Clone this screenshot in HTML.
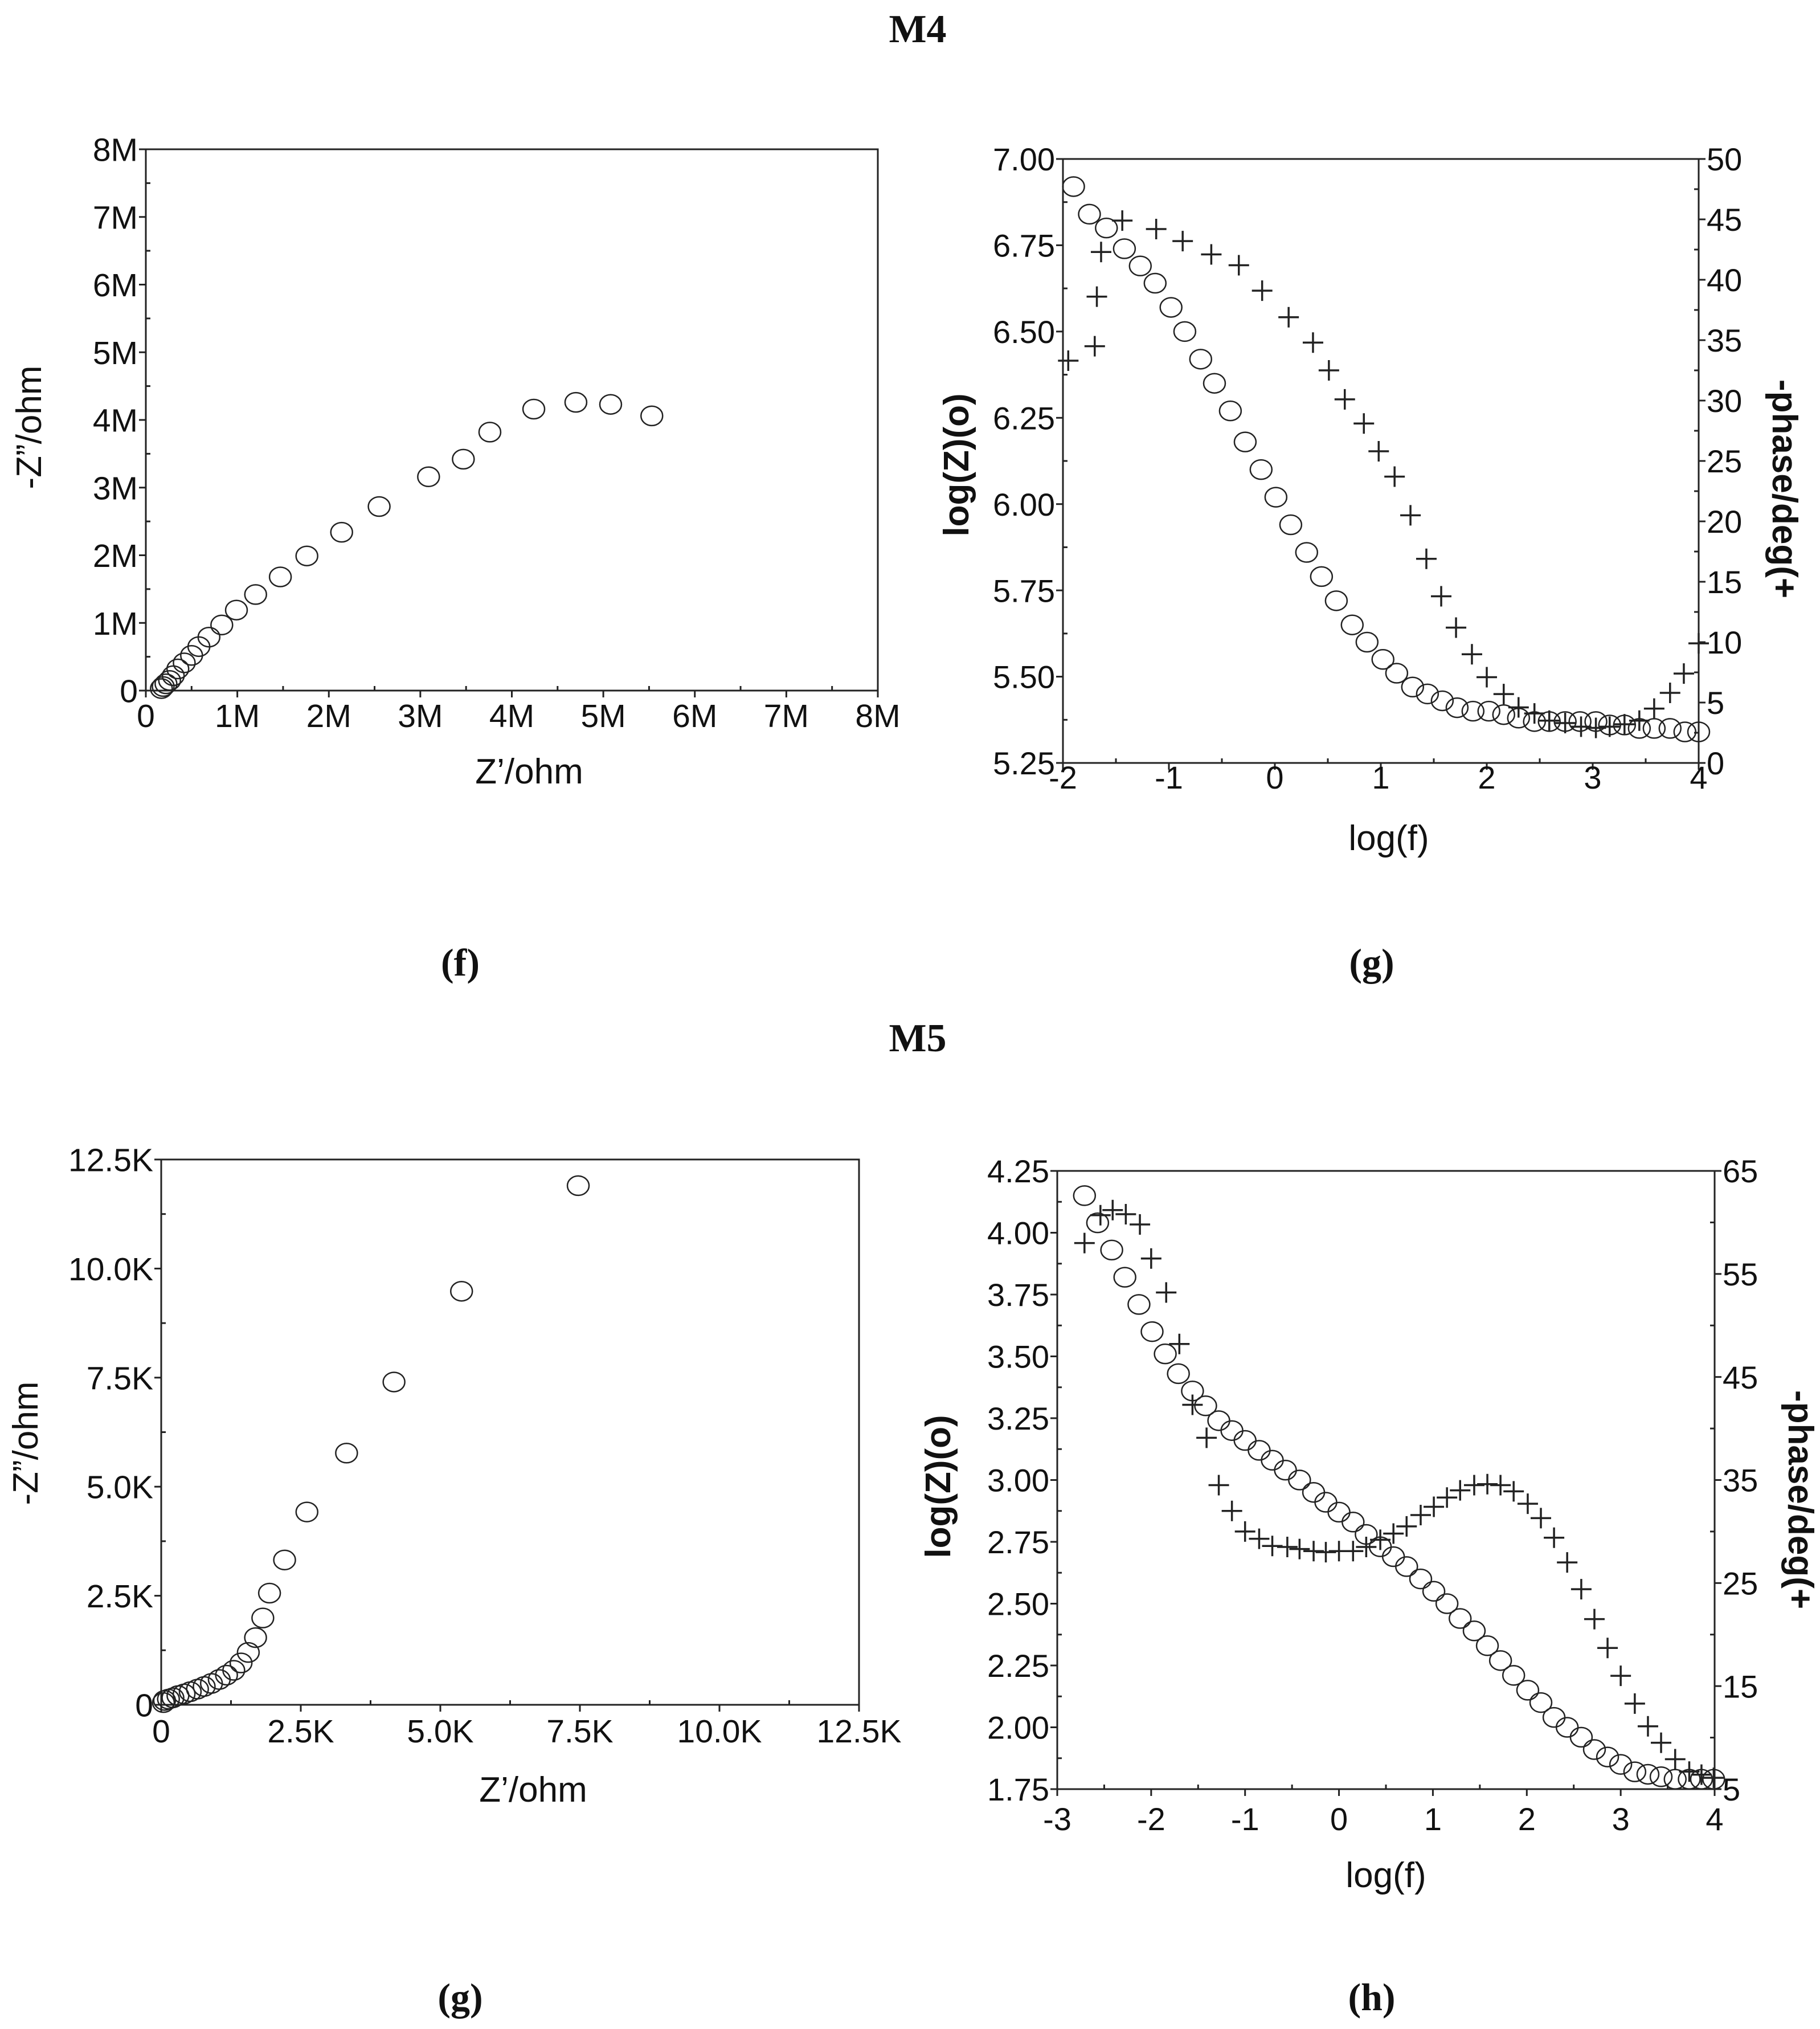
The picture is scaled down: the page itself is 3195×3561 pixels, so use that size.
<!DOCTYPE html>
<html><head><meta charset="utf-8">
<style>
html,body{margin:0;padding:0;background:#fff;}
svg{display:block;}
text{font-family:"Liberation Sans",Arial,sans-serif;fill:#111;}
.ser{font-family:"Liberation Serif","Times New Roman",serif;font-weight:bold;}
</style></head>
<body>
<svg id="root" width="3195" height="3561" viewBox="0 0 3195 3561" xmlns="http://www.w3.org/2000/svg">
<rect width="3195" height="3561" fill="#fff"/>
<text class="ser" x="1611" y="74" font-size="70" text-anchor="middle">M4</text>
<text class="ser" x="1611" y="1845" font-size="70" text-anchor="middle">M5</text>
<text class="ser" x="808" y="1712" font-size="68" text-anchor="middle">(f)</text>
<text class="ser" x="2408" y="1712" font-size="68" text-anchor="middle">(g)</text>
<text class="ser" x="808" y="3528" font-size="68" text-anchor="middle">(g)</text>
<text class="ser" x="2408" y="3528" font-size="68" text-anchor="middle">(h)</text>
</svg>
<script>
// Panel f (M4 Nyquist), values in M ohm
const fX=[5.53,5.08,4.70,4.24,3.76,3.47,3.09,2.55,2.14,1.76,1.47,1.20,0.99,0.83,0.69,0.58,0.50,0.42,0.35,0.30,0.26,0.22,0.19,0.17];
const fY=[4.06,4.23,4.26,4.16,3.82,3.42,3.16,2.72,2.34,1.99,1.68,1.42,1.19,0.97,0.79,0.65,0.52,0.41,0.32,0.22,0.15,0.10,0.06,0.03];
const fXTicks=["0","1M","2M","3M","4M","5M","6M","7M","8M"];
const fYTicks=["0","1M","2M","3M","4M","5M","6M","7M","8M"];
// Panel g (M4 Bode)
const gF=[-1.90,-1.75,-1.59,-1.42,-1.27,-1.13,-0.98,-0.85,-0.70,-0.57,-0.42,-0.28,-0.13,0.01,0.15,0.30,0.44,0.58,0.73,0.87,1.02,1.15,1.30,1.44,1.58,1.72,1.87,2.02,2.16,2.30,2.45,2.59,2.74,2.88,3.03,3.16,3.30,3.44,3.58,3.73,3.87,4.0];
const gZ=[6.92,6.84,6.80,6.74,6.69,6.64,6.57,6.50,6.42,6.35,6.27,6.18,6.10,6.02,5.94,5.86,5.79,5.72,5.65,5.60,5.55,5.51,5.47,5.45,5.43,5.41,5.40,5.40,5.39,5.38,5.37,5.37,5.37,5.37,5.37,5.36,5.36,5.35,5.35,5.35,5.34,5.34];
const gPF=[-1.95,-1.70,-1.68,-1.64,-1.44,-1.12,-0.87,-0.60,-0.34,-0.12,0.13,0.36,0.51,0.66,0.84,0.98,1.13,1.28,1.43,1.57,1.71,1.86,2.00,2.16,2.30,2.45,2.59,2.74,2.89,3.03,3.16,3.30,3.44,3.58,3.73,3.86,4.0];
const gP=[33.3,34.5,38.6,42.3,44.9,44.2,43.2,42.1,41.2,39.1,36.9,34.8,32.5,30.1,28.1,25.8,23.7,20.5,16.9,13.8,11.2,9.0,7.1,5.7,4.6,4.1,3.5,3.3,3.0,2.9,3.0,3.2,3.5,4.5,5.8,7.4,9.9];
const gXTicks=["-2","-1","0","1","2","3","4"];
const gYTicks=["5.25","5.50","5.75","6.00","6.25","6.50","6.75","7.00"];
const gY2Ticks=["0","5","10","15","20","25","30","35","40","45","50"];
// Panel g2 (M5 Nyquist), values in K ohm
const hX=[7.47,5.38,4.17,3.32,2.61,2.21,1.94,1.82,1.69,1.56,1.43,1.30,1.17,1.04,0.90,0.77,0.65,0.52,0.41,0.30,0.21,0.13,0.06,0.04];
const hY=[11.90,9.48,7.40,5.77,4.42,3.32,2.56,1.99,1.54,1.20,0.96,0.79,0.68,0.58,0.49,0.42,0.36,0.30,0.25,0.21,0.16,0.13,0.10,0.05];
const hXTicks=["0","2.5K","5.0K","7.5K","10.0K","12.5K"];
const hYTicks=["0","2.5K","5.0K","7.5K","10.0K","12.5K"];
// Panel h (M5 Bode)
const kF=[-2.71,-2.57,-2.42,-2.28,-2.13,-1.99,-1.85,-1.71,-1.56,-1.42,-1.28,-1.14,-1.00,-0.85,-0.71,-0.57,-0.42,-0.27,-0.14,0.00,0.15,0.29,0.44,0.58,0.72,0.87,1.01,1.15,1.29,1.44,1.58,1.72,1.86,2.01,2.15,2.29,2.43,2.58,2.72,2.86,3.00,3.15,3.29,3.43,3.58,3.73,3.86,3.99];
const kZ=[4.15,4.04,3.93,3.82,3.71,3.60,3.51,3.43,3.36,3.30,3.24,3.20,3.16,3.12,3.08,3.04,3.00,2.95,2.91,2.87,2.83,2.78,2.73,2.69,2.65,2.60,2.55,2.50,2.44,2.39,2.33,2.27,2.21,2.15,2.10,2.04,2.00,1.96,1.91,1.88,1.85,1.82,1.81,1.80,1.79,1.79,1.79,1.79];
const kPF=[-2.71,-2.54,-2.41,-2.27,-2.12,-2.00,-1.84,-1.70,-1.56,-1.41,-1.28,-1.14,-1.00,-0.85,-0.71,-0.55,-0.42,-0.27,-0.14,0.00,0.15,0.29,0.44,0.58,0.72,0.87,1.01,1.15,1.29,1.44,1.58,1.72,1.86,2.01,2.15,2.29,2.43,2.58,2.72,2.86,3.00,3.15,3.29,3.43,3.58,3.73,3.86,3.99];
const kP=[58.0,60.7,61.2,60.8,59.8,56.5,53.2,48.2,42.3,39.1,34.5,32.0,30.0,29.3,28.6,28.5,28.3,28.1,28.0,28.1,28.1,28.5,29.2,29.8,30.5,31.6,32.4,33.3,34.0,34.5,34.6,34.5,33.9,32.7,31.3,29.4,27.0,24.4,21.5,18.7,16.0,13.3,11.1,9.5,7.9,6.7,6.4,6.1];
const kXTicks=["-3","-2","-1","0","1","2","3","4"];
const kYTicks=["1.75","2.00","2.25","2.50","2.75","3.00","3.25","3.50","3.75","4.00","4.25"];
const kY2Ticks=["5","15","25","35","45","55","65"];

const NS="http://www.w3.org/2000/svg";
const root=document.getElementById('root');
function mk(tag,attrs,parent){const e=document.createElementNS(NS,tag);for(const k in attrs)e.setAttribute(k,attrs[k]);(parent||root).appendChild(e);return e;}
function lin(d0,d1,r0,r1){return v=>r0+(v-d0)/(d1-d0)*(r1-r0);}

function panel(o){
  const g=mk('g',{});
  
  
  const box=mk('rect',{x:o.L,y:o.T,width:o.R-o.L,height:o.B-o.T,fill:'none',stroke:'#222','stroke-width':3},g);
  
  
  const sx=lin(o.xd[0],o.xd[1],o.L,o.R), sy=lin(o.yd[0],o.yd[1],o.B,o.T);
  const nx=o.xt.length;
  for(let i=0;i<nx;i++){
    const v=o.xd[0]+(o.xd[1]-o.xd[0])*i/(nx-1), x=sx(v);
    mk('line',{x1:x,y1:o.B,x2:x,y2:o.B+12,stroke:'#222','stroke-width':3},g);
    if(i<nx-1){const xm=sx(v+(o.xd[1]-o.xd[0])/(nx-1)/2);mk('line',{x1:xm,y1:o.B,x2:xm,y2:o.B-8,stroke:'#222','stroke-width':3},g);}
    const t=mk('text',{x:x,y:o.xly,'font-size':o.fs,'text-anchor':'middle'},g);t.textContent=o.xt[i];
    
    
  }
  const ny=o.yt.length;
  for(let i=0;i<ny;i++){
    const v=o.yd[0]+(o.yd[1]-o.yd[0])*i/(ny-1), y=sy(v);
    mk('line',{x1:o.L-12,y1:y,x2:o.L,y2:y,stroke:'#222','stroke-width':3},g);
    if(i<ny-1){const ym=sy(v+(o.yd[1]-o.yd[0])/(ny-1)/2);mk('line',{x1:o.L,y1:ym,x2:o.L+8,y2:ym,stroke:'#222','stroke-width':3},g);}
    const t=mk('text',{x:o.L-14,y:y+o.fs*0.36,'font-size':o.fs,'text-anchor':'end'},g);t.textContent=o.yt[i];
    
    
  }
  let sy2=null;
  if(o.y2t){
    sy2=lin(o.y2d[0],o.y2d[1],o.B,o.T);
    const n2=o.y2t.length;
    for(let i=0;i<n2;i++){
      const v=o.y2d[0]+(o.y2d[1]-o.y2d[0])*i/(n2-1), y=sy2(v);
      mk('line',{x1:o.R,y1:y,x2:o.R+12,y2:y,stroke:'#222','stroke-width':3},g);
      if(i<n2-1){const ym=sy2(v+(o.y2d[1]-o.y2d[0])/(n2-1)/2);mk('line',{x1:o.R-8,y1:ym,x2:o.R,y2:ym,stroke:'#222','stroke-width':3},g);}
      const t=mk('text',{x:o.R+14,y:y+o.fs*0.36,'font-size':o.fs},g);t.textContent=o.y2t[i];
      
      
    }
    const t2=mk('text',{x:o.y2lx,y:o.y2ly,'font-size':62,'text-anchor':'middle','font-weight':'bold',transform:`rotate(90 ${o.y2lx} ${o.y2ly})`},g);
    t2.textContent='-phase/deg(+';
    
    
  }
  const tx=mk('text',{x:o.xlx,y:o.xlty,'font-size':62,'text-anchor':'middle'},g);tx.textContent=o.xtitle;
  
  
  const ty=mk('text',{x:o.ylx,y:o.yly,'font-size':62,'text-anchor':'middle','font-weight':o.ybold?'bold':'normal',transform:`rotate(-90 ${o.ylx} ${o.yly})`},g);ty.textContent=o.ytitle;
  
  
  for(let i=0;i<o.cx.length;i++){
    const c=mk('ellipse',{cx:sx(o.cx[i]),cy:sy(o.cy[i]),rx:19,ry:17,fill:'none',stroke:'#222','stroke-width':2.5},g);
    
    
  }
  if(o.px){
    for(let i=0;i<o.px.length;i++){
      const x=sx(o.px[i]),y=sy2(o.py[i]);
      const p=mk('path',{d:`M${x-18} ${y}H${x+18}M${x} ${y-18}V${y+18}`,stroke:'#222','stroke-width':3.5,fill:'none'},g);
      
      
    }
  }
}
panel({name:'m4-nyquist-chart',L:256,R:1541,T:262,B:1212,xd:[0,8],yd:[0,8],xt:fXTicks,yt:fYTicks,fs:57,xly:1276,xlx:929,xlty:1375,xtitle:'Z’/ohm',ylx:72,yly:750,ytitle:'-Z”/ohm',cx:fX,cy:fY});
panel({name:'m4-bode-chart',L:1866,R:2982,T:279,B:1339,xd:[-2,4],yd:[5.25,7.0],y2d:[0,50],xt:gXTicks,yt:gYTicks,y2t:gY2Ticks,fs:56,xly:1384,xlx:2438,xlty:1492,xtitle:'log(f)',ylx:1700,yly:816,ytitle:'log(Z)(o)',ybold:true,y2lx:3112,y2ly:858,cx:gF,cy:gZ,px:gPF,py:gP});
panel({name:'m5-nyquist-chart',L:283,R:1508,T:2035,B:2992,xd:[0,12.5],yd:[0,12.5],xt:hXTicks,yt:hYTicks,fs:57,xly:3058,xlx:936,xlty:3162,xtitle:'Z’/ohm',ylx:66,yly:2533,ytitle:'-Z”/ohm',cx:hX,cy:hY});
panel({name:'m5-bode-chart',L:1856,R:3010,T:2055,B:3140,xd:[-3,4],yd:[1.75,4.25],y2d:[5,65],xt:kXTicks,yt:kYTicks,y2t:kY2Ticks,fs:56,xly:3212,xlx:2433,xlty:3312,xtitle:'log(f)',ylx:1668,yly:2609,ytitle:'log(Z)(o)',ybold:true,y2lx:3140,y2ly:2632,cx:kF,cy:kZ,px:kPF,py:kP});
</script>
</body></html>
